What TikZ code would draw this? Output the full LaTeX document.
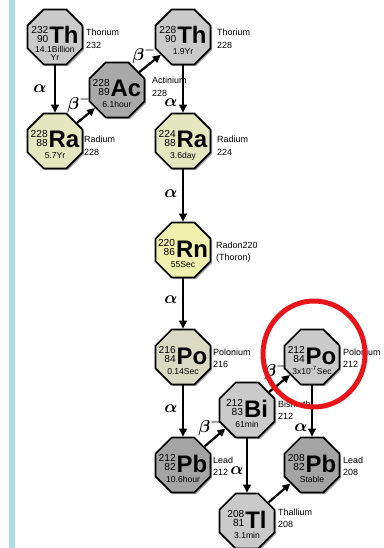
\documentclass[tikz,border=0pt]{standalone}
\usepackage{fontspec}
\setmainfont{Liberation Sans}
\usetikzlibrary{shapes.geometric,arrows.meta,shadows}
\definecolor{stripe}{HTML}{A8DEE8}
\definecolor{gLight}{HTML}{CACACA}
\definecolor{gAc}{HTML}{A9A9A9}
\definecolor{gPb}{HTML}{A4A4A4}
\definecolor{yRa}{HTML}{E4E6C0}
\definecolor{yRn}{HTML}{EEF0AE}
\definecolor{yPo}{HTML}{DADAC4}
\definecolor{redring}{HTML}{E8141A}
\tikzset{
  oct/.style={regular polygon, regular polygon sides=8, minimum size=59.5bp,
    inner sep=0pt, draw=black, line width=1.6bp,
    drop shadow={shadow xshift=1.6bp, shadow yshift=-1.6bp, fill=black, opacity=0.35}},
  grp/.style={inner sep=0pt, anchor=base},
  half/.style={inner sep=0pt, anchor=north, align=center,
    font=\fontsize{8.6}{8.4}\selectfont},
  lbl/.style={inner sep=0pt, anchor=base west, font=\fontsize{9}{10}\selectfont},
  decay/.style={line width=2.2bp, -{Triangle[length=8bp,width=7.5bp]}},
  greek/.style={inner sep=0pt, font=\fontsize{18}{18}\selectfont\boldmath},
}
% #1 name, #2 position, #3 fill, #4 mass, #5 Z, #6 symbol, #7 half-life, #8 half-life top offset
\newcommand\iso[8]{%
  \node[oct, fill=#3] (#1) at #2 {};
  \node[grp] (#1g) at ([yshift=-7bp]#1.center)
    {\raisebox{1.5bp}{\fontsize{10.2}{9.4}\selectfont
      \vbox{\halign{\hfil##\cr #4\cr #5\cr}}}\hspace{1bp}{\fontsize{24}{24}\selectfont\bfseries #6}};
  \node[half] (#1h) at ([yshift=-#8bp]#1.center) {#7};
}
% #1 name, #2 position of first baseline, #3 line 1, #4 line 2
\newcommand\lbl[4]{%
  \node[lbl] (#1a) at #2 {#3};
  \node[lbl] (#1b) at ([yshift=-12.5bp]#1a.base west) {#4};
}
\begin{document}
\begin{tikzpicture}[x=1bp,y=-1bp]
\useasboundingbox (0,0) rectangle (383,548);
\fill[white] (0,0) rectangle (383,548);
\fill[stripe] (9,0) rectangle (14.5,548);

\iso{th232}{(55,37)}{gLight}{232}{90}{Th}{14.1Billion\\[-1bp]Yr}{9.5}
\iso{ac228}{(117,90)}{gAc}{228}{89}{Ac}{6.1hour}{11}
\iso{th228}{(183,37)}{gLight}{228}{90}{Th}{1.9Yr}{11}
\iso{ra228}{(55,141)}{yRa}{228}{88}{Ra}{5.7Yr}{11}
\iso{ra224}{(183,141)}{yRa}{224}{88}{Ra}{3.6day}{11}
\iso{rn220}{(183,250)}{yRn}{220}{86}{Rn}{55Sec}{11}
\iso{po216}{(183,357)}{yPo}{216}{84}{Po}{0.14Sec}{11}
\iso{po212}{(312,357)}{gLight}{212}{84}{Po}{3x10\smash{\textsuperscript{-7}}Sec}{11}
\iso{bi212}{(247,410)}{gLight}{212}{83}{Bi}{61min}{11}
\iso{pb212}{(183,465)}{gPb}{212}{82}{Pb}{10.6hour}{11}
\iso{pb208}{(312,465)}{gPb}{208}{82}{Pb}{Stable}{11}
\iso{tl208}{(247,521)}{gLight}{208}{81}{Tl}{3.1min}{11}

\lbl{th232l}{(86,36)}{Thorium}{232}
\lbl{ac228l}{(152,84)}{Actinium}{228}
\lbl{th228l}{(217,36)}{Thorium}{228}
\lbl{ra228l}{(84,143)}{Radium}{228}
\lbl{ra224l}{(217,143)}{Radium}{224}
\lbl{rn220l}{(216,248)}{Radon220}{(Thoron)}
\lbl{po216l}{(213,355)}{Polonium}{216}
\lbl{po212l}{(343,355)}{Polonium}{212}
\lbl{bi212l}{(278,407)}{Bismuth}{212}
\lbl{pb212l}{(213,463)}{Lead}{212}
\lbl{pb208l}{(343,463)}{Lead}{208}
\lbl{tl208l}{(278,515)}{Thallium}{208}

\draw[decay] (th232) -- (ra228);
\draw[decay] (ra228) -- (ac228);
\draw[decay] (ac228) -- (th228);
\draw[decay] (th228) -- (ra224);
\draw[decay] (ra224) -- (rn220);
\draw[decay] (rn220) -- (po216);
\draw[decay] (po216) -- (pb212);
\draw[decay] (pb212) -- (bi212);
\draw[decay] (bi212) -- (po212);
\draw[decay] (bi212) -- (tl208);
\draw[decay] (po212) -- (pb208);
\draw[decay] (tl208) -- (pb208);

\node[greek] (a1) at (40,89) {$\alpha$};
\node[greek] (b1) at (79,104) {$\beta^-$};
\node[greek] (b2) at (144,55) {$\beta^-$};
\node[greek] (a2) at (171,103) {$\alpha$};
\node[greek] (a3) at (171,194) {$\alpha$};
\node[greek] (a4) at (171,300) {$\alpha$};
\node[greek] (a5) at (171,409) {$\alpha$};
\node[greek] (b3) at (210,427) {$\beta^-$};
\node[greek] (b4) at (276,371) {$\beta^-$};
\node[greek] (a6) at (237,471) {$\alpha$};
\node[greek] (a7) at (301,428) {$\alpha$};

\draw[redring, line width=5bp] (314,354) ellipse [x radius=51, y radius=53];
\end{tikzpicture}
\end{document}
